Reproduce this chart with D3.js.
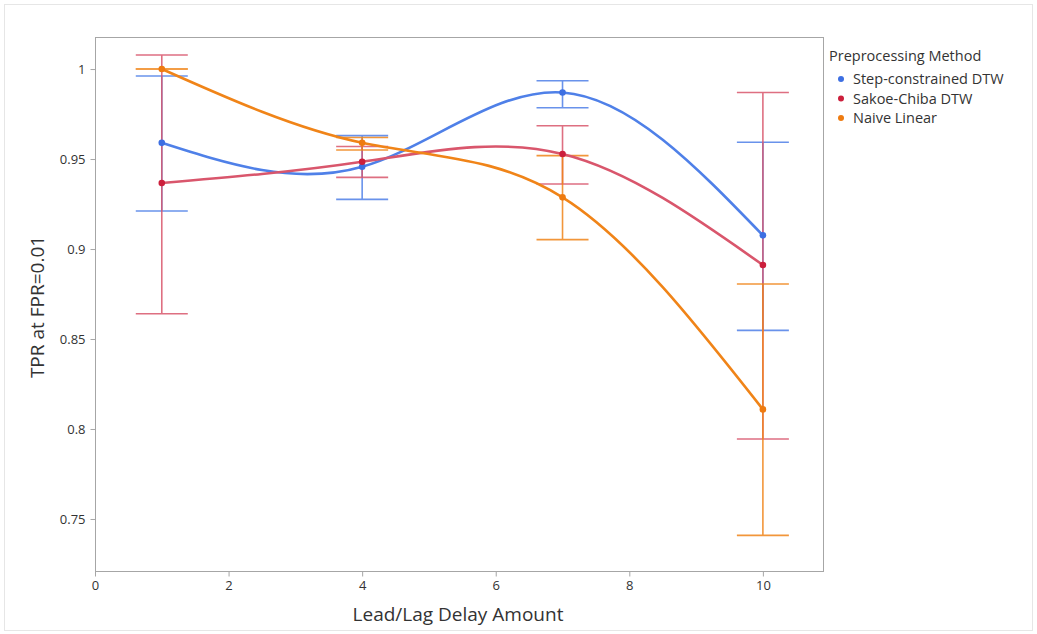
<!DOCTYPE html>
<html>
<head>
<meta charset="utf-8">
<script src="https://cdn.jsdelivr.net/npm/d3@7"></script>
<style>
  body { margin: 0; background: #fff; }
  text { font-family: 'Open Sans', 'Noto Sans', sans-serif; fill: #333; }
</style>
</head>
<body>
<div id='chart'></div>

<script>
  // data
  var delays = [1, 4, 7, 10]
  var methods = ['Step-constrained DTW', 'Sakoe-Chiba DTW', 'Naive Linear']
  var stepMean = [0.959, 0.9457, 0.987, 0.9076]
  var stepLow = [0.9211, 0.9276, 0.9785, 0.8548]
  var stepHigh = [0.9961, 0.963, 0.9935, 0.9593]
  var sakoeMean = [0.9367, 0.9485, 0.9528, 0.8911]
  var sakoeLow = [0.864, 0.9398, 0.9361, 0.7944]
  var sakoeHigh = [1.0078, 0.957, 0.9685, 0.987]
  var naiveMean = [1.0, 0.959, 0.9287, 0.8109]
  var naiveLow = [1.0, 0.955, 0.9052, 0.7409]
  var naiveHigh = [1.0, 0.962, 0.9519, 0.8806]
  var xTicks = [0, 2, 4, 6, 8, 10]
  var yTicks = [0.75, 0.8, 0.85, 0.9, 0.95, 1]

  var dotColors = ['#3d6fe2', '#cc1f3c', '#ee7b10']
  var lineColors = ['#4f80e8', '#d9566c', '#f08418']

  var series = [
    { mean: stepMean, low: stepLow, high: stepHigh },
    { mean: sakoeMean, low: sakoeLow, high: sakoeHigh },
    { mean: naiveMean, low: naiveLow, high: naiveHigh }
  ]

  var W = 1037, H = 634
  var plotL = 95, plotR = 823, plotT = 37, plotB = 571

  var svg = d3.select('#chart').append('svg')
              .attr('width', W)
              .attr('height', H)

  svg.append('rect')
     .attr('x', 4.5).attr('y', 4.5)
     .attr('width', 1028).attr('height', 626)
     .attr('fill', 'none')
     .attr('stroke', '#e6e6e6')

  var x = d3.scaleLinear().domain([0, 10.9]).range([plotL, plotR])
  var y = d3.scaleLinear().domain([0.7211, 1.0178]).range([plotB, plotT])

  svg.append('rect')
     .attr('x', plotL + 0.5).attr('y', plotT + 0.5)
     .attr('width', plotR - plotL).attr('height', plotB - plotT)
     .attr('fill', 'none')
     .attr('stroke', '#a6a6a6')

  var xAxis = svg.append('g')
                 .attr('transform', 'translate(0,' + (plotB + 0.5) + ')')
                 .call(d3.axisBottom(x).tickValues(xTicks).tickSize(5).tickSizeOuter(0).tickPadding(4))
  var yAxis = svg.append('g')
                 .attr('transform', 'translate(' + (plotL + 0.5) + ',0)')
                 .call(d3.axisLeft(y).tickValues(yTicks).tickFormat(d3.format('')).tickSize(5).tickSizeOuter(0).tickPadding(5))

  ;[xAxis, yAxis].forEach(function(a) {
    a.select('.domain').remove()
    a.selectAll('line').attr('stroke', '#a6a6a6')
    a.selectAll('text').style('font-size', '13px').attr('fill', '#333')
  })

  svg.append('text')
     .attr('x', (plotL + plotR) / 2 - 1)
     .attr('y', 621)
     .attr('text-anchor', 'middle')
     .style('font-size', '19px')
     .text('Lead/Lag Delay Amount')

  svg.append('text')
     .attr('transform', 'translate(44,' + ((plotT + plotB) / 2 + 3) + ') rotate(-90)')
     .attr('text-anchor', 'middle')
     .style('font-size', '19px')
     .text('TPR at FPR=0.01')

  var plot = svg.append('g')

  // error bars
  series.forEach(function(s, i) {
    var g = plot.append('g')
                .attr('stroke', lineColors[i])
                .attr('stroke-width', 1.6)
                .attr('opacity', 0.85)
    delays.forEach(function(d, j) {
      var cx = x(d)
      g.append('line')
       .attr('x1', cx).attr('x2', cx)
       .attr('y1', y(s.low[j])).attr('y2', y(s.high[j]))
      ;[s.low[j], s.high[j]].forEach(function(v) {
        g.append('line')
         .attr('x1', cx - 26).attr('x2', cx + 26)
         .attr('y1', y(v)).attr('y2', y(v))
      })
    })
  })

  // smooth lines
  var line = d3.line()
               .x(function(d) { return x(d[0]) })
               .y(function(d) { return y(d[1]) })
               .curve(d3.curveNatural)

  series.forEach(function(s, i) {
    plot.append('path')
        .datum(delays.map(function(d, j) { return [d, s.mean[j]] }))
        .attr('d', line)
        .attr('fill', 'none')
        .attr('stroke', lineColors[i])
        .attr('stroke-width', 2.6)
  })

  series.forEach(function(s, i) {
    plot.selectAll(null)
        .data(delays.map(function(d, j) { return [d, s.mean[j]] }))
        .enter()
        .append('circle')
        .attr('cx', function(d) { return x(d[0]) })
        .attr('cy', function(d) { return y(d[1]) })
        .attr('r', 3.3)
        .attr('fill', dotColors[i])
  })

  // legend
  var legend = svg.append('g').attr('transform', 'translate(829,0)')
  legend.append('text')
        .attr('x', 0).attr('y', 61)
        .style('font-size', '14.5px')
        .text('Preprocessing Method')
  methods.forEach(function(m, i) {
    var ly = 79 + i * 19.5
    legend.append('circle')
          .attr('cx', 12).attr('cy', ly)
          .attr('r', 3)
          .attr('fill', dotColors[i])
    legend.append('text')
          .attr('x', 24).attr('y', ly + 5)
          .style('font-size', '14.5px')
          .text(m)
  })
</script>
</body>
</html>
